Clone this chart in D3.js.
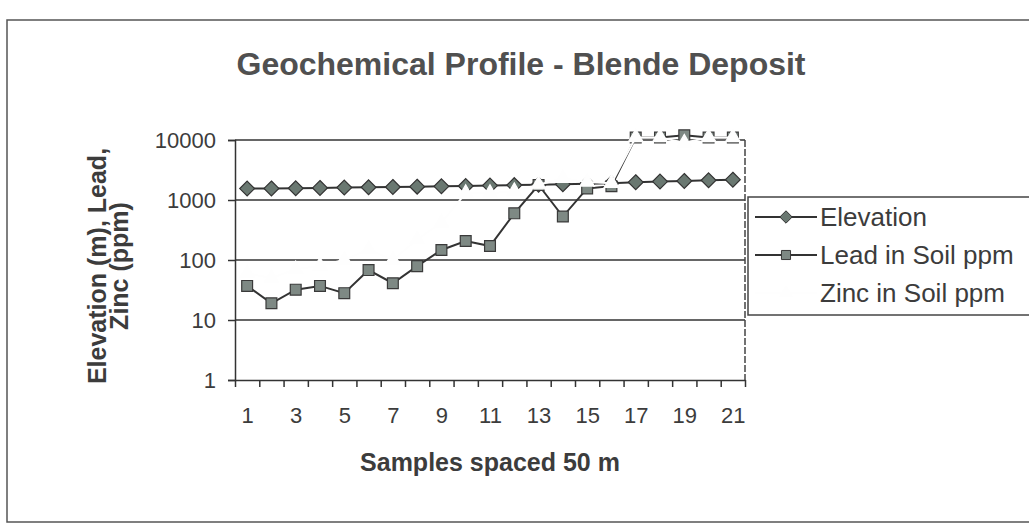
<!DOCTYPE html>
<html>
<head>
<meta charset="utf-8">
<script src="https://cdn.jsdelivr.net/npm/d3@7"></script>
<style>
  body { margin: 0; background: #fff; }
  svg { display: block; }
  text { font-family: "Liberation Sans", Arial, sans-serif; fill: #3c3c3c; }
</style>
</head>
<body>
<div id="chart"></div>
<script>
// Samples along the traverse, spaced 50 m
var samples = d3.range(1, 22);
var elevation = [1550, 1560, 1570, 1590, 1610, 1630, 1650, 1670, 1690, 1710, 1740,
                 1770, 1800, 1830, 1860, 1900, 1980, 2030, 2080, 2130, 2180];
var leadPpm = [37, 19, 32, 37, 28, 68, 41, 79, 147, 207, 171,
               600, 1780, 530, 1560, 1700, 11000, 11000, 12000, 11000, 11000];
// zinc was printed in pale yellow and is almost lost on the white paper
var zincPpm = [60, 50, 70, 80, 100, 150, 100, 220, 420, 1300, 1300,
               1400, 1800, 2300, 2000, 1900, 11000, 11000, 9000, 11000, 11000];
var yTicks = [1, 10, 100, 1000, 10000];
var xLabels = [1, 3, 5, 7, 9, 11, 13, 15, 17, 19, 21];
var seriesNames = ["Elevation", "Lead in Soil ppm", "Zinc in Soil ppm"];

var W = 1029, H = 527;
var plot = {left: 235, right: 745, top: 140, bottom: 380};

var svg = d3.select("#chart").append("svg")
  .attr("width", W)
  .attr("height", H);

// outer chart frame
svg.append("rect")
  .attr("x", 7).attr("y", 20)
  .attr("width", 1040).attr("height", 502)
  .attr("fill", "none")
  .attr("stroke", "#555")
  .attr("stroke-width", 1.5);

svg.append("text")
  .attr("x", 521).attr("y", 75)
  .attr("text-anchor", "middle")
  .attr("font-size", "32px")
  .attr("font-weight", "bold")
  .style("fill", "#505050")
  .text("Geochemical Profile - Blende Deposit");

// scales: categories sit between tick marks
var x = d3.scaleLinear()
  .domain([0.5, 21.5])
  .range([plot.left, plot.right]);

var y = d3.scaleLog()
  .domain([1, 10000])
  .range([plot.bottom, plot.top]);

// gridlines
svg.append("g")
  .selectAll("line")
  .data(yTicks.slice(1))
  .join("line")
    .attr("x1", plot.left).attr("x2", plot.right)
    .attr("y1", d => y(d)).attr("y2", d => y(d))
    .attr("stroke", "#333")
    .attr("stroke-width", 1.5);

// right border of plot area
svg.append("line")
  .attr("x1", plot.right).attr("x2", plot.right)
  .attr("y1", plot.top).attr("y2", plot.bottom)
  .attr("stroke", "#444")
  .attr("stroke-width", 1.5)
  .attr("stroke-dasharray", "7,2");

// y axis
var yAxis = svg.append("g")
  .attr("transform", `translate(${plot.left},0)`)
  .call(d3.axisLeft(y).tickValues(yTicks).tickFormat(d3.format("d")).tickSize(7).tickPadding(12));
yAxis.selectAll("text").attr("font-size", "22px").style("font-family", null);
yAxis.selectAll("line, path").attr("stroke", "#333").attr("stroke-width", 1.5);

// x axis: tick marks at category boundaries
var xTickAxis = svg.append("g")
  .attr("transform", `translate(0,${plot.bottom})`)
  .call(d3.axisBottom(x).tickValues(d3.range(0.5, 22, 1)).tickFormat("").tickSize(7).tickSizeOuter(0));
xTickAxis.selectAll("line, path").attr("stroke", "#333").attr("stroke-width", 1.5);

var xLabelAxis = svg.append("g")
  .attr("transform", `translate(0,${plot.bottom})`)
  .call(d3.axisBottom(x).tickValues(xLabels).tickFormat(d3.format("d")).tickSize(0).tickPadding(27));
xLabelAxis.select(".domain").remove();
xLabelAxis.selectAll("text").attr("font-size", "22px").style("font-family", null);

// axis titles
svg.append("text")
  .attr("x", 490).attr("y", 471)
  .attr("text-anchor", "middle")
  .attr("font-size", "25px")
  .attr("font-weight", "bold")
  .text("Samples spaced 50 m");

var yTitle = svg.append("text")
  .attr("transform", "translate(106,266) rotate(-90)")
  .attr("text-anchor", "middle")
  .attr("font-size", "25px")
  .attr("font-weight", "bold");
yTitle.append("tspan").attr("x", 0).attr("dy", 0).text("Elevation (m), Lead,");
yTitle.append("tspan").attr("x", 0).attr("dy", 22).text("Zinc (ppm)");

// series
var series = [
  {name: seriesNames[0], values: elevation, marker: d3.symbolDiamond2, size: 140, fill: "#6a7871", stroke: "#333", line: "#333"},
  {name: seriesNames[1], values: leadPpm, marker: d3.symbolSquare2, size: 150, fill: "#7e8984", stroke: "#3a3a3a", line: "#333"},
  {name: seriesNames[2], values: zincPpm, marker: d3.symbolTriangle2, size: 150, fill: "#fefefe", stroke: "#fefefe", line: "#fefefe"}
];

var line = d3.line()
  .x((d, i) => x(samples[i]))
  .y(d => y(d));

series.forEach(function(s) {
  var g = svg.append("g");
  g.append("path")
    .attr("d", line(s.values))
    .attr("fill", "none")
    .attr("stroke", s.line)
    .attr("stroke-width", 2);
  g.selectAll("path.mk")
    .data(s.values)
    .join("path")
      .attr("class", "mk")
      .attr("transform", (d, i) => `translate(${x(samples[i])},${y(d)})`)
      .attr("d", d3.symbol().type(s.marker).size(s.size))
      .attr("fill", s.fill)
      .attr("stroke", s.stroke)
      .attr("stroke-width", 1.2);
});

// legend
var legend = svg.append("g").attr("transform", "translate(748,197)");
legend.append("rect")
  .attr("width", 300).attr("height", 118)
  .attr("fill", "#fff")
  .attr("stroke", "#444")
  .attr("stroke-width", 1.5);

var item = legend.selectAll("g.item")
  .data(series)
  .join("g")
    .attr("class", "item")
    .attr("transform", (d, i) => `translate(0,${20 + i * 38})`);
item.append("line")
  .attr("x1", 7).attr("x2", 69)
  .attr("stroke", d => d.line)
  .attr("stroke-width", 2);
item.append("path")
  .attr("transform", "translate(38,0)")
  .attr("d", d => d3.symbol().type(d.marker).size(d.size * 0.7)())
  .attr("fill", d => d.fill)
  .attr("stroke", d => d.stroke);
item.append("text")
  .attr("x", 72)
  .attr("dy", "0.35em")
  .attr("font-size", "26px")
  .text(d => d.name);
</script>
</body>
</html>
